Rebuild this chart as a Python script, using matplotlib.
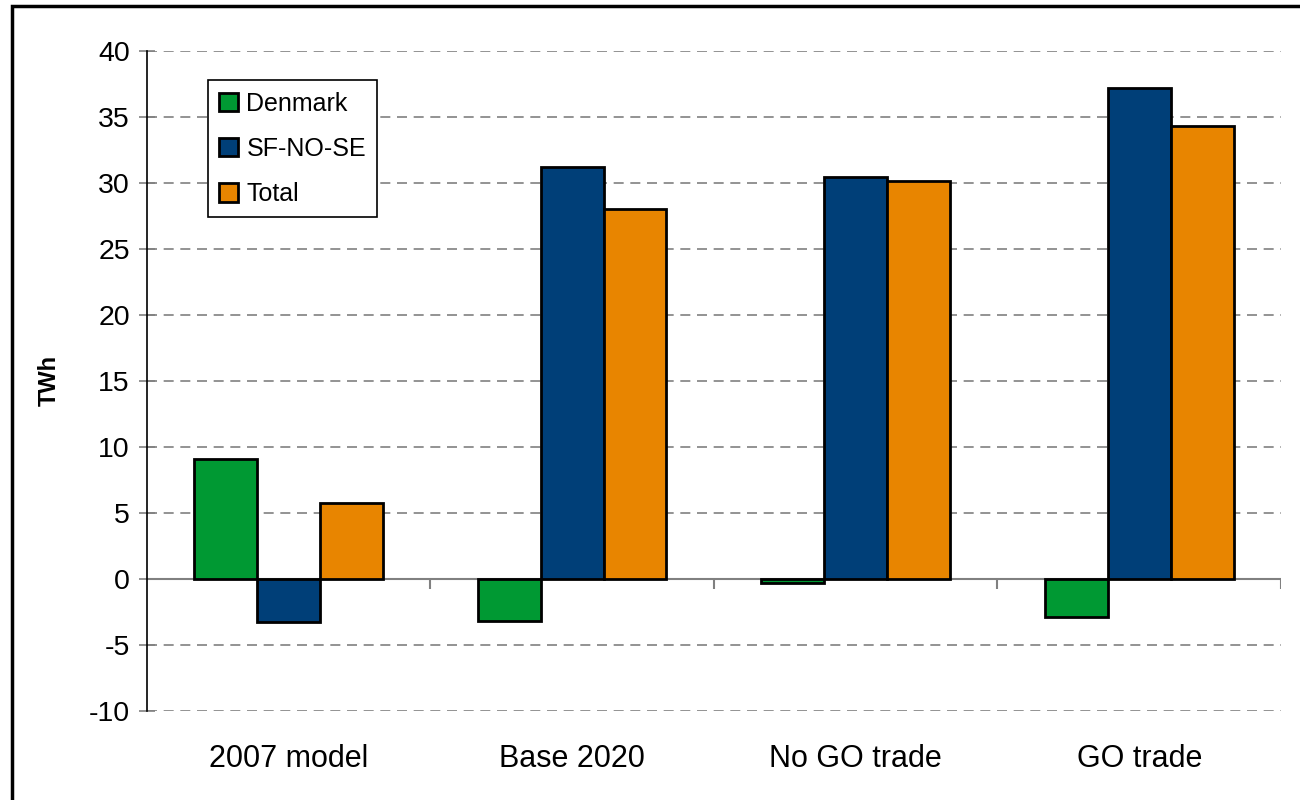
import numpy as np
import matplotlib.pyplot as plt
from matplotlib.patches import Rectangle

categories = ['2007 model', 'Base 2020', 'No GO trade', 'GO trade']
denmark = [9.1, -3.2, -0.35, -2.9]
sf_no_se = [-3.3, 31.2, 30.4, 37.2]
total = [5.75, 28.0, 30.1, 34.3]

plt.rcParams['font.family'] = ['Liberation Sans', 'DejaVu Sans']
plt.rcParams['axes.unicode_minus'] = False

fig = plt.figure(figsize=(13, 8), dpi=100)
ax = fig.add_axes([0.1128, 0.1116, 0.8726, 0.825])

# outer chart frame (clipped at right/bottom like the source)
fig.patches.append(Rectangle((12 / 1300, -0.1), 1.2, 1 - 6 / 800 + 0.1,
                             transform=fig.transFigure, fill=False,
                             edgecolor='black', linewidth=2.5))

x = np.arange(len(categories))
w = 0.222
series = [('Denmark', denmark, '#009933'),
          ('SF-NO-SE', sf_no_se, '#003f78'),
          ('Total', total, '#e88500')]
for i, (name, vals, color) in enumerate(series):
    ax.bar(x + (i - 1) * w, vals, w, color=color, edgecolor='black',
           linewidth=2, label=name, zorder=3)

ax.set_xlim(-0.5, len(categories) - 0.5)
ax.set_ylim(-10, 40)
ax.set_yticks(range(-10, 41, 5))
ax.yaxis.grid(True, linestyle=(0, (6, 4)), color='#808080', linewidth=1.2)
ax.set_axisbelow(True)

for s in ['top', 'right', 'bottom']:
    ax.spines[s].set_visible(False)
ax.spines['left'].set_linewidth(1.2)

ax.axhline(0, color='#808080', linewidth=1.5, zorder=2)
ax.vlines(np.arange(0.5, len(categories)), -0.75, 0, color='#808080',
          linewidth=1.5, zorder=2)

ax.set_xticks(x)
ax.set_xticklabels(categories, fontsize=22)
ax.tick_params(axis='x', length=0, pad=24)
ax.tick_params(axis='y', labelsize=20.5, length=12, width=1.2, pad=6,
               direction='inout', color='#808080')
ax.set_ylabel('TWh', fontsize=17, fontweight='bold')
ax.yaxis.set_label_coords(-0.086, 0.5)
ax.yaxis.label.set_va('center')

leg = ax.legend(loc='upper left', bbox_to_anchor=(0.0538, 0.955),
                fontsize=18, frameon=True, fancybox=False, framealpha=1,
                edgecolor='black', handlelength=0.75, handleheight=0.75,
                handletextpad=0.35, labelspacing=0.85, borderpad=0.45,
                borderaxespad=0)
leg.get_frame().set_linewidth(1.2)

fig.savefig('out.png', dpi=100)
